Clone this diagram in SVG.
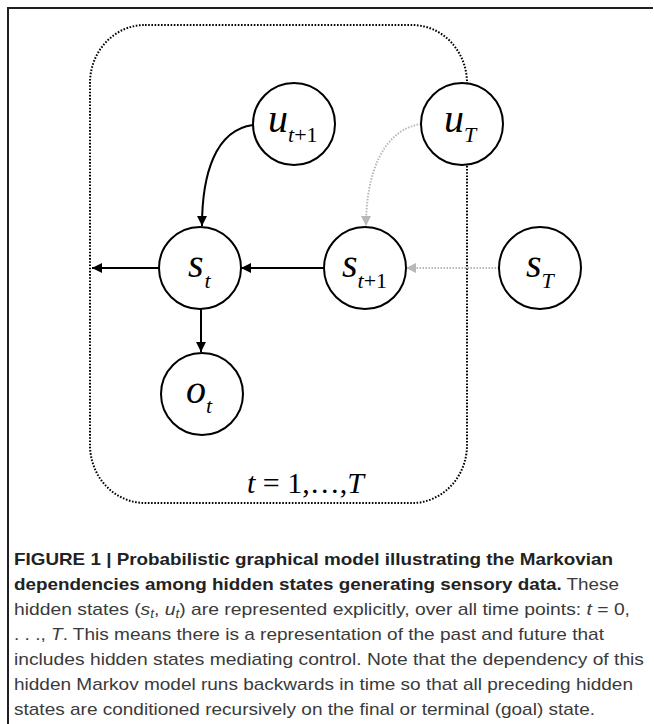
<svg xmlns="http://www.w3.org/2000/svg" width="654" height="724" viewBox="0 0 654 724">
<style>
.node{fill:#fff;stroke:#000;stroke-width:2}
.m{font-family:"Liberation Serif","Times New Roman",serif;font-style:italic;fill:#000;font-size:40px}
.sub{font-size:22px}
.up{font-style:normal}
.edge{fill:none;stroke:#000;stroke-width:2}
.gedge{fill:none;stroke:#b8b8b8;stroke-width:2;stroke-dasharray:1.5 1.5}
.cap{font-family:"Liberation Sans",Arial,sans-serif;font-size:17px;fill:#3a3a3a}
.b{font-weight:bold;fill:#222}
.i{font-style:italic}
</style>
<defs>
<marker id="ah" viewBox="0 0 10 10" refX="10" refY="5" markerWidth="10" markerHeight="10" markerUnits="userSpaceOnUse" orient="auto">
<path d="M0,0 L10,5 L0,10 Z" fill="#000"/>
</marker>
<marker id="gh" viewBox="0 0 10 10" refX="10" refY="5" markerWidth="10" markerHeight="10" markerUnits="userSpaceOnUse" orient="auto">
<path d="M0,0 L10,5 L0,10 Z" fill="#b8b8b8"/>
</marker>
</defs>
<rect width="654" height="724" fill="#fff"/>
<path d="M8,724 V8 H653" fill="none" stroke="#231f20" stroke-width="2"/>
<rect id="plate" x="90" y="25" width="377" height="478" rx="55" ry="58" fill="none" stroke="#000" stroke-width="2" stroke-dasharray="1.6 1.6"/>
<g id="connectors">
<path class="edge" d="M159,268 H92" marker-end="url(#ah)"/>
<path class="edge" d="M324,268 H241" marker-end="url(#ah)"/>
<path class="gedge" d="M499,268 H406" marker-end="url(#gh)"/>
<path class="edge" d="M201,309 V352" marker-end="url(#ah)"/>
<path class="edge" d="M253,125 C215,130 202,175 202,226" marker-end="url(#ah)"/>
<path class="gedge" d="M421,124 C382,130 366,175 366,226" marker-end="url(#gh)"/>
</g>
<g id="u_t1">
<circle class="node" cx="294" cy="124" r="41"/>
<text class="m" x="268" y="132">u<tspan class="sub" dy="10">t</tspan><tspan class="sub up">+1</tspan></text>
</g>
<g id="u_T">
<circle class="node" cx="462" cy="124" r="41"/>
<text class="m" x="444" y="132">u<tspan class="sub" dy="10">T</tspan></text>
</g>
<g id="s_t">
<circle class="node" cx="200" cy="268" r="41"/>
<text class="m" x="188" y="277">s<tspan class="sub" dy="11" dx="1">t</tspan></text>
</g>
<g id="s_t1">
<circle class="node" cx="365" cy="268" r="41"/>
<text class="m" x="342" y="277">s<tspan class="sub" dy="11">t</tspan><tspan class="sub up">+1</tspan></text>
</g>
<g id="s_T">
<circle class="node" cx="540" cy="268" r="41"/>
<text class="m" x="526" y="277">s<tspan class="sub" dy="11">T</tspan></text>
</g>
<g id="o_t">
<circle class="node" cx="202" cy="394" r="41"/>
<text class="m" x="186" y="403">o<tspan class="sub" dy="10">t</tspan></text>
</g>
<text class="m" x="247" y="493" style="font-size:30px">t<tspan class="up"> = 1,…,</tspan>T</text>
<g id="caption">
<text class="cap b" x="14" y="565" textLength="599" lengthAdjust="spacingAndGlyphs">FIGURE 1 | Probabilistic graphical model illustrating the Markovian</text>
<text class="cap" x="14" y="590" textLength="605" lengthAdjust="spacingAndGlyphs"><tspan class="b">dependencies among hidden states generating sensory data.</tspan> These</text>
<text class="cap" x="14" y="615" textLength="616" lengthAdjust="spacingAndGlyphs">hidden states (<tspan class="i">s</tspan><tspan font-size="12" dy="3" class="i">t</tspan><tspan dy="-3">, </tspan><tspan class="i">u</tspan><tspan font-size="12" dy="3" class="i">t</tspan><tspan dy="-3">) are represented explicitly, over all time points: </tspan><tspan class="i">t</tspan> = 0,</text>
<text class="cap" x="14" y="640" textLength="590" lengthAdjust="spacingAndGlyphs">. . ., <tspan class="i">T</tspan>. This means there is a representation of the past and future that</text>
<text class="cap" x="14" y="665" textLength="630" lengthAdjust="spacingAndGlyphs">includes hidden states mediating control. Note that the dependency of this</text>
<text class="cap" x="14" y="690" textLength="619" lengthAdjust="spacingAndGlyphs">hidden Markov model runs backwards in time so that all preceding hidden</text>
<text class="cap" x="14" y="715" textLength="581" lengthAdjust="spacingAndGlyphs">states are conditioned recursively on the final or terminal (goal) state.</text>
</g>
</svg>
